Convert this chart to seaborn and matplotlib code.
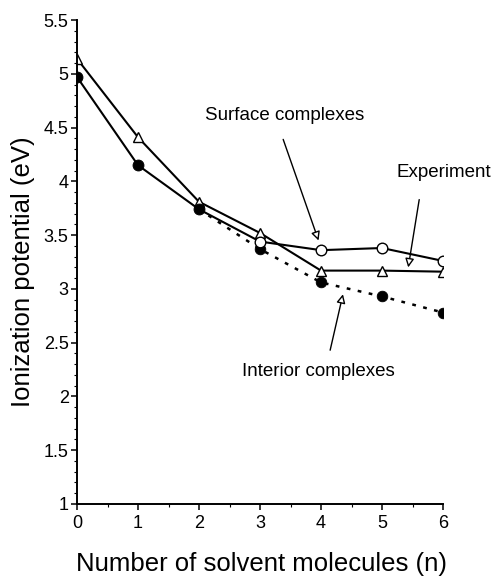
import matplotlib
matplotlib.use("Agg")
import matplotlib.pyplot as plt
import seaborn as sns
import pandas as pd
from matplotlib.ticker import MultipleLocator

n = [0, 1, 2, 3, 4, 5, 6]
interior = [4.97, 4.15, 3.74, 3.37, 3.06, 2.93, 2.78]
surface = [4.97, 4.15, 3.74, 3.44, 3.36, 3.38, 3.26]
experiment = [5.14, 4.41, 3.81, 3.52, 3.17, 3.17, 3.16]

sns.set_theme(style="ticks")
plt.rcParams['font.family'] = ['Liberation Sans', 'DejaVu Sans']
plt.rcParams['text.color'] = 'black'
plt.rcParams['axes.labelcolor'] = 'black'

fig = plt.figure(figsize=(4.95, 5.77), dpi=100)
ax = fig.add_axes([77/495, 73/577, 366/495, 484/577])

df = pd.DataFrame({"n": n, "interior": interior, "surface": surface, "experiment": experiment})
shared = df[df.n <= 2]
later = df[df.n >= 3]
dotted = df[df.n >= 2]

lw = 1.5
# experiment
sns.lineplot(data=df, x="n", y="experiment", ax=ax, color="black", lw=lw,
             marker="^", markersize=6.5, markerfacecolor="white",
             markeredgecolor="black", markeredgewidth=1.0)
# surface (solid)
sns.lineplot(data=df, x="n", y="surface", ax=ax, color="black", lw=lw)
# interior (dotted)
sns.lineplot(data=dotted, x="n", y="interior", ax=ax, color="black", lw=1.8,
             linestyle=(0, (1.5, 3.0)))
# markers
sns.scatterplot(data=shared, x="n", y="interior", ax=ax, color="black", s=62,
                edgecolor="black", zorder=5)
sns.scatterplot(data=later, x="n", y="interior", ax=ax, color="black", s=58,
                edgecolor="black", zorder=5)
sns.scatterplot(data=later, x="n", y="surface", ax=ax, color="white", s=58,
                edgecolor="black", linewidth=1.0, zorder=5)

ax.set_xlim(0, 6)
ax.set_ylim(1, 5.5)
ax.xaxis.set_major_locator(MultipleLocator(1))
ax.xaxis.set_minor_locator(MultipleLocator(0.5))
ax.yaxis.set_major_locator(MultipleLocator(0.5))
ax.yaxis.set_minor_locator(MultipleLocator(0.1))
ax.set_yticklabels([f"{v:g}" for v in ax.get_yticks()])
ax.tick_params(axis="both", which="major", direction="out", length=4, width=1.1,
               labelsize=13, colors="black", pad=2)
ax.tick_params(axis="x", which="major", pad=4)
ax.tick_params(axis="both", which="minor", direction="out", length=2, width=0.8,
               colors="black")
for s in ["top", "right"]:
    ax.spines[s].set_visible(False)
for s in ["left", "bottom"]:
    ax.spines[s].set_linewidth(1.4)
    ax.spines[s].set_color("black")

ax.set_xlabel("")
ax.set_ylabel("")
fig.text(261/495, (577 - 571)/577, "Number of solvent molecules (n)", fontsize=18.5,
         ha="center", va="baseline", color="black")
fig.text(23/495, (577 - 272)/577, "Ionization potential (eV)", fontsize=18.5,
         ha="center", va="center", rotation=90, color="black")

arrow = dict(arrowstyle="-|>", fc="white", ec="black", lw=1.0, mutation_scale=13,
             shrinkA=0, shrinkB=0)
ax.text(3.41, 4.615, "Surface complexes", ha="center", va="center", fontsize=13.5)
ax.annotate("", xy=(3.96, 3.45), xytext=(3.38, 4.39), arrowprops=arrow)
ax.text(6.01, 4.085, "Experiment", ha="center", va="center", fontsize=13.5, clip_on=False)
ax.annotate("", xy=(5.43, 3.20), xytext=(5.61, 3.83), arrowprops=arrow)
ax.text(3.95, 2.23, "Interior complexes", ha="center", va="center", fontsize=13.5)
ax.annotate("", xy=(4.36, 2.95), xytext=(4.15, 2.43), arrowprops=arrow)

fig.savefig("out.png", dpi=100)
